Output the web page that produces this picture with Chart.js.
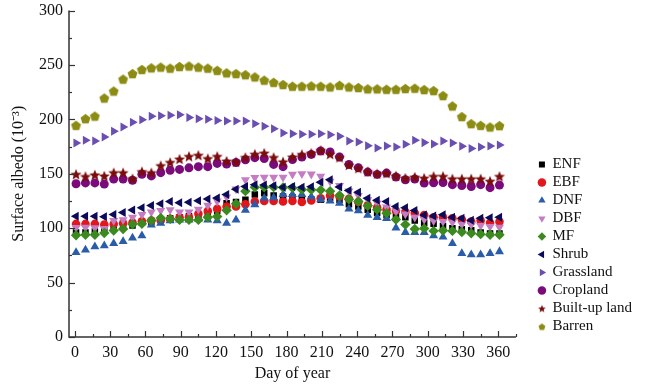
<!DOCTYPE html>
<html>
<head>
<meta charset="utf-8">
<script src="https://cdn.jsdelivr.net/npm/chart.js@4.4.1/dist/chart.umd.min.js"></script>
<style>
  html, body { margin: 0; padding: 0; background: #fff; }
</style>
</head>
<body>
<canvas id="albedoChart" width="650" height="385"></canvas>
<script>
// Day of year of each 8-day composite
const days = [1, 9, 17, 25, 33, 41, 49, 57, 65, 73, 81, 89, 97, 105, 113, 121, 129, 137, 145, 153,
  161, 169, 177, 185, 193, 201, 209, 217, 225, 233, 241, 249, 257, 265, 273, 281, 289, 297, 305, 313,
  321, 329, 337, 345, 353, 361];

// Surface albedo (10^-3) per land cover type
const enf = [96, 96, 97, 98, 100, 102, 102.5, 105, 106, 108, 109, 110, 111, 112, 114, 116, 123, 124, 126, 131,
  132, 130, 129, 128.5, 127, 126.5, 126, 128, 126, 122, 120, 117, 114, 112, 111, 110, 107, 105, 104, 102,
  100, 99, 98, 96, 95, 95];
const ebf = [103.9, 103.9, 103.9, 103.3, 103.9, 104.5, 105.1, 106.3, 107, 107, 108.5, 110, 110, 113.2, 115.8, 117.7, 119.9, 119.9, 122, 124.5,
  125, 125, 124.5, 125, 124, 125.5, 127.5, 130, 129, 127, 124, 121, 119, 117, 116, 115, 114, 112, 110, 110,
  109, 108, 106, 107, 105, 106];
const dnf = [77.8, 80, 83, 83.9, 86, 87.9, 91, 93.1, 103, 104.5, 107, 107.6, 107.6, 108.5, 107.6, 107, 104.5, 107.5, 116.5, 121.7,
  127.5, 128, 131, 131, 131, 129, 126.3, 125, 123, 117.7, 116, 112, 110, 109, 100.2, 96.2, 96.2, 96.2, 93.1, 92,
  86, 76.8, 75.6, 75.6, 76.8, 78.5];
const dbf = [100.5, 100.8, 100.2, 99.5, 107, 107.6, 110, 112.5, 114.7, 116.2, 116.8, 114.7, 114.7, 117.4, 121, 124.8, 128.5, 136, 144.5, 146.4,
  146.7, 146.7, 146.7, 149.4, 150, 149.6, 147.6, 143, 139, 134, 130, 126, 123, 119.3, 115.6, 113, 110, 108, 106.7, 106,
  105.4, 103.5, 103.3, 102.4, 101.5, 100.8];
const mf = [93.5, 94, 94, 95.5, 97.8, 99.3, 103.5, 104, 107, 109.4, 108.5, 107.6, 107.6, 107.6, 110, 110.7, 116.5, 122.4, 134, 137.5,
  137.5, 137.7, 137.3, 137, 135.5, 135.3, 135, 134, 130, 126.5, 124.5, 120.5, 117, 113.7, 108, 103.3, 99.3, 99.8, 97.5, 97.8,
  97.5, 96.5, 95.3, 94.5, 94, 94];
const shrub = [111, 111, 111, 110.4, 112.5, 114.4, 116.8, 118.7, 120.8, 122.4, 124.5, 123.3, 123.9, 125.1, 126.8, 127.7, 131, 135.8, 138.3, 140,
  139.6, 139, 137.7, 138.3, 137.5, 138, 142.2, 144.5, 137.8, 134.5, 133, 127.5, 125.7, 124.6, 120, 118.7, 116.2, 112, 111.2, 112.4,
  110, 109.2, 107.3, 109.2, 109.5, 110];
const grassland = [178.3, 180.8, 180, 183.7, 189, 193, 197.3, 199.7, 202.8, 203.4, 203.7, 204.3, 201.6, 200.6, 200, 199, 198.4, 198.4, 198.4, 196,
  193.6, 191.4, 187.4, 186.8, 186.3, 186.3, 186.8, 185.9, 184.4, 180, 179.1, 175.8, 173.7, 175.5, 174.6, 177, 180.8, 178.6, 177.4, 180,
  178.3, 175.2, 173.1, 174.6, 175.5, 176.4];
const cropland = [140.8, 141.6, 141.6, 140.5, 145.1, 145.1, 144, 149.5, 148, 151, 153.2, 154, 155.4, 156.5, 156.5, 159.5, 158.9, 160.3, 162.9, 164.8,
  164, 158.6, 156.5, 163, 165.4, 167.8, 170.9, 170, 165.4, 158.6, 155.6, 151.5, 149.4, 150.6, 147, 144.5, 145.1, 141.4, 141.7, 142,
  140, 139.2, 138.3, 140, 137.2, 139.6];
const builtUp = [149.5, 147.5, 149, 148, 151, 151, 145.5, 152, 151, 157.5, 160.5, 163.5, 166, 167, 164, 166, 161.7, 161, 165, 168,
  169, 165, 161, 165.5, 167.8, 169, 171.5, 168, 165, 158, 155, 152, 150, 150.5, 148, 146, 147, 146, 147.6, 147.6,
  145.4, 145.4, 145.4, 145.4, 143.2, 147.6];
const barren = [194.5, 200.6, 203, 219.6, 226, 237, 242, 245.8, 247.3, 248, 247, 248.5, 249, 248, 247, 245, 242.7, 242, 241, 239,
  236, 234, 232, 230.4, 230.4, 230.7, 230.4, 229.8, 231.3, 229.8, 229.2, 228, 228, 227.6, 227.6, 228.3, 228.6, 227.3, 226.4, 221.8,
  212.3, 202.5, 196, 194.5, 193, 194.2];

const xMajorTicks = [0, 30, 60, 90, 120, 150, 180, 210, 240, 270, 300, 330, 360];
const xMinorTicks = [15, 45, 75, 105, 135, 165, 195, 225, 255, 285, 315, 345, 375];
const yMajorTicks = [0, 50, 100, 150, 200, 250, 300];
const yMinorTicks = [25, 75, 125, 175, 225, 275];

const FONT = "'Liberation Serif', 'Times New Roman', serif";

// Filled star / pentagon markers drawn on small canvases
function makeMarker(kind, color, r) {
    const c = document.createElement('canvas');
    const s = Math.ceil(r * 2 + 2);
    c.width = s;
    c.height = s;
    const g = c.getContext('2d');
    g.fillStyle = color;
    g.beginPath();
    const n = kind === 'star' ? 10 : 5;
    for (let k = 0; k < n; k++) {
        const rad = (kind === 'star' && k % 2) ? r * 0.45 : r;
        const a = -Math.PI / 2 + k * 2 * Math.PI / n;
        const px = s / 2 + rad * Math.cos(a);
        const py = s / 2 + 0.5 + rad * Math.sin(a);
        if (k === 0) g.moveTo(px, py); else g.lineTo(px, py);
    }
    g.closePath();
    g.fill();
    return c;
}

const starBig = makeMarker('star', '#7a0c0c', 5.8);
const starSmall = makeMarker('star', '#7a0c0c', 4);
const pentBig = makeMarker('pent', '#8c8c14', 5.2);
const pentSmall = makeMarker('pent', '#8c8c14', 3.6);

const series = [
    { label: 'ENF', data: enf, color: '#000000', style: 'rect', rot: 0, r: 4.6 },
    { label: 'EBF', data: ebf, color: '#e3161c', style: 'circle', rot: 0, r: 4.3 },
    { label: 'DNF', data: dnf, color: '#2a5ca8', style: 'triangle', rot: 0, r: 5.2 },
    { label: 'DBF', data: dbf, color: '#c47cc2', style: 'triangle', rot: 180, r: 5.2 },
    { label: 'MF', data: mf, color: '#3b8a1f', style: 'rectRot', rot: 0, r: 5.2 },
    { label: 'Shrub', data: shrub, color: '#0b0b5a', style: 'triangle', rot: 270, r: 5.2 },
    { label: 'Grassland', data: grassland, color: '#6a4fb0', style: 'triangle', rot: 90, r: 5.2 },
    { label: 'Cropland', data: cropland, color: '#7b0a7b', style: 'circle', rot: 0, r: 4.5 },
    { label: 'Built-up land', data: builtUp, color: '#7a0c0c', style: starBig, rot: 0, r: 5 },
    { label: 'Barren', data: barren, color: '#8c8c14', style: pentBig, rot: 0, r: 5 }
];

const legendMarkers = { 8: starSmall, 9: pentSmall };

// Later series are drawn on top (lower order = drawn last)
const datasets = series.map((s, i) => ({
    label: s.label,
    data: days.map((d, k) => ({ x: d, y: s.data[k] })),
    order: series.length - i,
    pointStyle: s.style,
    pointRotation: s.rot,
    pointRadius: s.r,
    pointHoverRadius: s.r,
    pointBackgroundColor: s.color,
    pointBorderColor: s.color,
    pointBorderWidth: 0,
    showLine: false
}));

// Axis lines with inward major/minor ticks
const innerTicks = {
    id: 'innerTicks',
    afterDatasetsDraw(chart) {
        const { ctx, chartArea, scales: { x, y } } = chart;
        ctx.save();
        ctx.strokeStyle = '#333';
        ctx.lineWidth = 1.5;
        ctx.beginPath();
        ctx.moveTo(chartArea.left, chartArea.top);
        ctx.lineTo(chartArea.left, chartArea.bottom);
        ctx.lineTo(chartArea.right, chartArea.bottom);
        ctx.stroke();
        ctx.lineWidth = 1.2;
        const tick = (list, len, horiz) => list.forEach(v => {
            ctx.beginPath();
            if (horiz) {
                const px = Math.round(x.getPixelForValue(v)) + 0.5;
                ctx.moveTo(px, chartArea.bottom);
                ctx.lineTo(px, chartArea.bottom - len);
            } else {
                const py = Math.round(y.getPixelForValue(v)) + 0.5;
                ctx.moveTo(chartArea.left, py);
                ctx.lineTo(chartArea.left + len, py);
            }
            ctx.stroke();
        });
        tick(xMajorTicks, 6, true);
        tick(xMinorTicks, 3, true);
        tick(yMajorTicks, 6, false);
        tick(yMinorTicks, 3, false);
        ctx.restore();
    }
};

new Chart(document.getElementById('albedoChart'), {
    type: 'scatter',
    data: { datasets },
    plugins: [innerTicks],
    options: {
        responsive: false,
        animation: false,
        devicePixelRatio: 1,
        layout: { padding: { top: 10.5, right: 8, bottom: 0, left: 0 } },
        plugins: {
            tooltip: { enabled: false },
            legend: {
                position: 'right',
                align: 'end',
                fullSize: false,
                labels: {
                    usePointStyle: true,
                    boxWidth: 6,
                    boxHeight: 6,
                    padding: 3,
                    color: '#111',
                    font: { family: FONT, size: 15 },
                    sort: (a, b) => a.datasetIndex - b.datasetIndex,
                    generateLabels(chart) {
                        const items = Chart.defaults.plugins.legend.labels.generateLabels(chart);
                        items.forEach(it => {
                            if (legendMarkers[it.datasetIndex]) it.pointStyle = legendMarkers[it.datasetIndex];
                        });
                        return items;
                    }
                }
            }
        },
        scales: {
            x: {
                type: 'linear',
                min: -5,
                max: 375,
                afterFit(s) { s.height = 48; },
                afterBuildTicks(s) { s.ticks = xMajorTicks.map(v => ({ value: v })); },
                grid: { display: false, drawTicks: false },
                border: { display: false },
                ticks: { color: '#111', padding: 6, maxRotation: 0, autoSkip: false, font: { family: FONT, size: 16 } },
                title: { display: true, text: 'Day of year', color: '#111', padding: { top: 0, bottom: 2 }, font: { family: FONT, size: 16 } }
            },
            y: {
                type: 'linear',
                min: 0,
                max: 300,
                afterFit(s) { s.width = 69; s.paddingTop = 0; s.paddingBottom = 0; },
                afterBuildTicks(s) { s.ticks = yMajorTicks.map(v => ({ value: v })); },
                grid: { display: false, drawTicks: false },
                border: { display: false },
                ticks: { color: '#111', padding: 6, font: { family: FONT, size: 16 } },
                title: { display: true, text: 'Surface albedo (10⁻³)', color: '#111', padding: { top: 9, bottom: 0 }, font: { family: FONT, size: 16 } }
            },
            gap: {
                type: 'linear',
                position: 'right',
                afterFit(s) { s.width = 20; },
                grid: { display: false, drawTicks: false },
                border: { display: false },
                ticks: { display: false }
            }
        }
    }
});
</script>
</body>
</html>
